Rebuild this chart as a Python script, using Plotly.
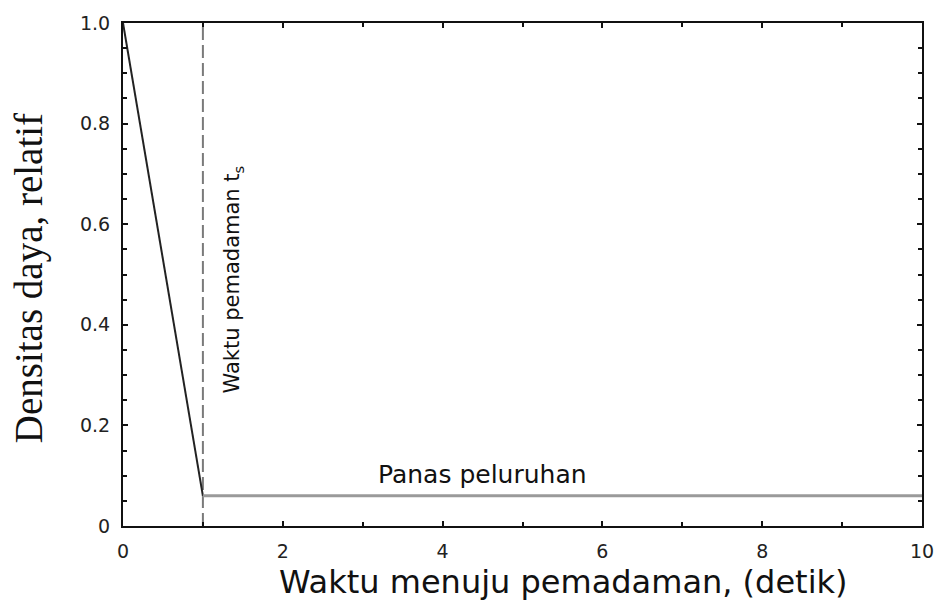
import plotly.graph_objects as go

# Relative power density after a reactor shutdown
drop_time = [0.0, 1.0]
drop_power = [1.0, 0.06]
decay_time = [1.0, 10.0]
decay_power = [0.06, 0.06]
shutdown_time = 1.0
x_ticks = [0, 2, 4, 6, 8, 10]
y_ticks = [0, 0.2, 0.4, 0.6, 0.8, 1.0]
y_tick_text = ["0", "0.2", "0.4", "0.6", "0.8", "1.0"]

fig = go.Figure()

# shutdown marker (dashed vertical line)
fig.add_trace(go.Scatter(
    x=[shutdown_time, shutdown_time], y=[0, 1.0], mode="lines",
    line=dict(color="#7a7a7a", width=2, dash="13px,5px"),
    hoverinfo="skip", showlegend=False))

# power drop during shutdown
fig.add_trace(go.Scatter(
    x=drop_time, y=drop_power, mode="lines",
    line=dict(color="#222222", width=2), showlegend=False))

# decay heat level
fig.add_trace(go.Scatter(
    x=decay_time, y=decay_power, mode="lines",
    line=dict(color="#9a9a9a", width=3), showlegend=False))

fig.add_annotation(
    x=4.5, y=decay_power[0], xref="x", yref="y", yshift=21,
    text="Panas peluruhan", showarrow=False,
    font=dict(family="DejaVu Sans, Arial", size=25, color="#111"))

fig.add_annotation(
    x=shutdown_time, y=0.49, xref="x", yref="y", xshift=30,
    text="Waktu pemadaman t<sub>s</sub>", showarrow=False, textangle=-90,
    font=dict(family="DejaVu Sans, Arial", size=21, color="#111"))

# axis titles placed as annotations for precise positioning
fig.add_annotation(
    x=-0.118, y=0.492, xref="paper", yref="paper",
    xanchor="center", yanchor="middle", textangle=-90,
    text="Densitas daya, relatif", showarrow=False,
    font=dict(family="Liberation Serif, Times New Roman", size=39, color="#111"))

fig.add_annotation(
    x=0.551, y=-0.112, xref="paper", yref="paper",
    xanchor="center", yanchor="middle",
    text="Waktu menuju pemadaman, (detik)", showarrow=False,
    font=dict(family="DejaVu Sans, Arial", size=32, color="#111"))

axis_common = dict(
    showgrid=False, zeroline=False, showline=True, linecolor="#111",
    linewidth=2, mirror="ticks", ticks="inside", tickcolor="#111",
    tickwidth=2, ticklen=5, ticklabelstandoff=7,
    tickfont=dict(family="DejaVu Sans, Arial", size=19, color="#222"))

fig.update_xaxes(
    range=[0, 10], tickvals=x_ticks,
    minor=dict(dtick=1, ticks="inside", ticklen=4, tickcolor="#111", tickwidth=2),
    **axis_common)

fig.update_yaxes(
    range=[0, 1.0], tickvals=y_ticks, ticktext=y_tick_text,
    minor=dict(dtick=0.05, ticks="inside", ticklen=4, tickcolor="#111", tickwidth=2),
    **axis_common)

fig.update_layout(
    width=946, height=603,
    margin=dict(l=123, r=19, t=18, b=77),
    paper_bgcolor="white", plot_bgcolor="white")

fig.write_html("out.html")
